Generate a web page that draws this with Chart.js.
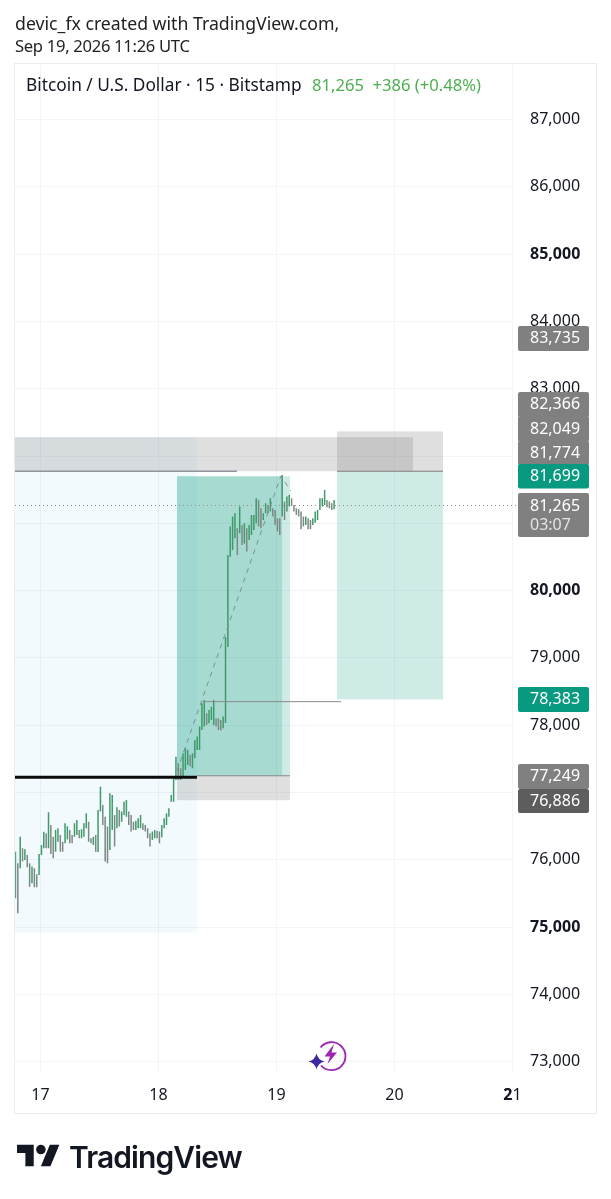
<!DOCTYPE html>
<html><head><meta charset="utf-8">
<style>
html,body{margin:0;padding:0;background:#fff;width:611px;height:1199px;overflow:hidden;font-family:"Noto Sans",sans-serif}
#wrap{position:relative;width:611px;height:1199px}
canvas{position:absolute;left:0;top:0}
.t{position:absolute;white-space:pre;line-height:22px;color:#222}
</style></head><body><div id="wrap">
<canvas id="c" width="611" height="1199"></canvas>
<div class="t" style="left:15px;top:12px;font-size:17.7px">devic_fx created with TradingView.com,</div>
<div class="t" style="left:15px;top:35px;font-size:16.6px;letter-spacing:-.3px">Sep 19, 2026 11:26 UTC</div>
<div class="t" style="left:26px;top:74px;color:#131722;font-size:17.3px">Bitcoin / U.S. Dollar · 15 · Bitstamp</div>
<div class="t" style="left:312px;top:74px;color:#4caf50;font-size:16.6px">81,265  +386 (+0.48%)</div>
<svg style="position:absolute;left:17px;top:1140px" width="43" height="33.4" viewBox="0 0 36 28"><path d="M14 22H7V11H0V4h14v18zM28 22h-8l7.5-18h8L28 22z" fill="#131722"/><circle cx="20" cy="8" r="4" fill="#131722"/></svg>
<div style="position:absolute;left:69px;top:1138px;font:600 30px/38px Inter,sans-serif;color:#131722;letter-spacing:-.9px">TradingView</div>
<svg style="position:absolute;left:305px;top:1036px" width="45" height="42" viewBox="0 0 45 42">
<path d="M15.5 11.5A14 14 0 1 1 16 29.5" fill="none" stroke="#9c27b0" stroke-width="1.8"/>
<path d="M29 8L19.5 20.5H25L22.5 28L32 16.5H26.5Z" fill="#9c27b0"/>
<path d="M11.5 17.5Q13 24 19.5 25.5Q13 27 11.5 33.5Q10 27 3.5 25.5Q10 24 11.5 17.5Z" fill="#3d2a9e"/>
</svg>
</div>
<script src="https://cdn.jsdelivr.net/npm/chart.js@4/dist/chart.umd.min.js"></script>
<script>
// Price sticks, about 50 per day from the left edge
const firstStickDay = 16.788;
const sticksPerDay = 50;
const stickHighs = [76121,75948,76344,76171,76156,76072,75948,75900,75873,75784,76086,76220,76418,76394,76706,76517,76344,76443,76468,76369,76270,76542,76500,76443,76369,76542,76592,76443,76453,76542,76691,76567,76319,76344,76369,76740,
 77087,76815,76641,76493,76988,76963,76666,76780,76740,76716,76864,76889,76716,76666,76567,76582,76617,76666,76542,76518,76468,76394,76419,76443,76433,76419,76518,76617,76691,76765,76963,77211,77533,
 77434,77360,77583,77657,77632,77558,77583,77781,77831,77979,78326,78375,78177,78227,78276,78375,78103,78103,78078,78128,79311,80530,
 80951,81100,81149,80926,81248,80976,81000,80926,80976,81124,81124,81372,81347,81223,81149,81298,81273,81372,81223,81199,81075,81075,81719,
 81323,81397,81422,81372,81273,81223,81209,81174,81100,81100,81075,81050,81075,81174,81199,81372,81372,81496,81347,81323,81298,81347];
const stickLows = [75428,75205,75873,75973,75997,75888,75601,75650,75591,75591,75774,76072,76171,76171,76171,76086,76022,76121,76270,76121,76121,76245,76300,76245,76245,76344,76369,76319,76319,76344,76468,76270,76245,76220,76121,76116,
 76716,76518,75973,75948,76146,76443,76196,76468,76493,76567,76666,76641,76518,76419,76443,76443,76468,76468,76443,76419,76319,76196,76295,76319,76319,76245,76335,76468,76518,76641,76864,76864,77186,
 77187,77187,77236,77335,77410,77385,77360,77509,77632,77632,77930,77979,78004,78029,78078,78004,77979,77930,77920,77954,78033,79163,
 80505,80604,80778,80530,80852,80679,80700,80580,80753,80827,80901,81001,80951,80926,81050,81149,81149,81174,81100,80976,80877,80827,81100,
 81050,81174,81248,81258,81174,81124,81100,80911,80951,80976,80911,80911,80976,81010,81050,81199,81248,81273,81238,81223,81199,81209];

const dayTicks = [17,18,19,20,21];
const priceTicks = [73000,74000,75000,76000,77000,78000,79000,80000,81000,82000,83000,84000,85000,86000,87000];
const boldPrices = [75000,80000,85000];

// Drawing tool values: start day, end day, low price, high price
const blueZone   = [16.784,18.326,74917,82280];
const greyZones  = [[16.784,20.157,81774,82280],[19.513,20.411,81774,82366],[18.157,19.114,76886,77249]];
const tealZones  = [[18.157,19.114,77249,81699],[18.157,19.047,77249,81699],[19.513,20.411,78383,81774]];
const trendDays   = [18.156,19.037,19.122];
const trendPrices = [77319,81702,81479];

// Price tags
const tagTexts = ["83,735","82,366","82,049","81,774","81,699","81,265","78,383","77,249","76,886"];
const tagKinds = ["grey","grey","grey","grey","teal","grey","teal","grey","dark"];
const countdown = "03:07";

// Layout of the tag column (top, bottom in page pixels)
const tagBoxes = [[326,351],[392,417],[416,442],[441,465],[464,488.5],[493,537],[687,712],[764,789],[789,813]];
const tagFill = {grey:"#808080",teal:"#089981",dark:"#5d5d5d"};

const FONT = '"Noto Sans"';
const sticks = stickHighs.map((h,i)=>({x:firstStickDay+i/sticksPerDay,y:[stickLows[i],h]}));
const stickColors = stickHighs.map((h,i)=>{
  if(i===0) return "#5aa57a";
  const m=(h+stickLows[i])/2, p=(stickHighs[i-1]+stickLows[i-1])/2;
  return m>=p ? "#3f9a69" : "#7d8783";
});
const seg=(a,b,p)=>[{x:a,y:p},{x:b,y:p}];
const lineDs=(data,color,width,dash,order,clip)=>({type:"line",data,borderColor:color,borderWidth:width,borderDash:dash||[],pointRadius:0,order,clip:clip===undefined?true:clip,tension:0,fill:false});

const zonesPlugin={id:"zones",
 beforeDraw(ch){const g=ch.ctx;g.save();g.strokeStyle="#ececec";g.lineWidth=1;g.strokeRect(14.5,63.5,582,1050);g.restore();},
 beforeDatasetsDraw(ch){
  const g=ch.ctx,X=ch.scales.x,Y=ch.scales.y;
  const box=(z,c)=>{const x0=X.getPixelForValue(z[0]),x1=X.getPixelForValue(z[1]),y0=Y.getPixelForValue(z[3]),y1=Y.getPixelForValue(z[2]);g.fillStyle=c;g.fillRect(x0,y0,x1-x0,y1-y0);};
  g.save();
  box(blueZone,"rgba(33,160,243,0.055)");
  greyZones.forEach(z=>box(z,"rgba(128,128,128,0.25)"));
  tealZones.forEach(z=>box(z,"rgba(8,153,129,0.2)"));
  g.restore();
 },
 afterDraw(ch){
  const g=ch.ctx,X=ch.scales.x;
  g.save();
  // bold first digit of the 21 tick
  g.font='700 16px '+FONT;g.fillStyle="#131722";g.textAlign="left";g.textBaseline="alphabetic";
  g.fillText("2",X.getPixelForValue(21)-9.2,1100);
  // tags
  g.textAlign="left";g.textBaseline="middle";
  tagTexts.forEach((t,i)=>{
    const b=tagBoxes[i];
    g.fillStyle=tagFill[tagKinds[i]];
    g.beginPath();g.roundRect(518,b[0],71,b[1]-b[0],2);g.fill();
  });
  tagTexts.forEach((t,i)=>{
    const b=tagBoxes[i];
    g.fillStyle="#fff";g.font='16px '+FONT;
    if(t==="81,265"){g.fillText(t,530,b[0]+13);g.fillStyle="#e3e3e3";g.fillText(countdown,530,b[0]+32);}
    else g.fillText(t,530,(b[0]+b[1])/2);
  });
  g.restore();
 }
};

new Chart(document.getElementById("c"),{
 type:"bar",
 plugins:[zonesPlugin],
 data:{datasets:[
  {type:"bar",data:sticks,backgroundColor:stickColors,barThickness:1.5,inflateAmount:0,order:5,grouped:false},
  lineDs(trendDays.map((d,i)=>({x:d,y:trendPrices[i]})),"#7d8f8c",1,[5,5],4),
  lineDs(seg(16.784,18.326,77225),"#0b0b0b",3,[],1),
  lineDs(seg(18.326,19.114,77249),"#8a8a8a",1,[],3),
  lineDs(seg(16.784,18.665,81774),"#8f949c",1.5,[],3),
  lineDs(seg(19.513,20.411,81774),"#7d7d7d",1,[],3),
  lineDs(seg(18.377,19.547,78350),"#8a8a8a",1,[],3),
  lineDs(seg(16.784,21.05,81265),"#8c8c8c",1,[1,3],2,false)
 ]},
 options:{
  responsive:false,animation:false,devicePixelRatio:1,
  layout:{padding:{left:15,top:63,right:0,bottom:0}},
  plugins:{legend:{display:false},tooltip:{enabled:false},title:{display:false}},
  scales:{
   x:{type:"linear",min:16.784,max:21,offset:false,
      afterBuildTicks:s=>{s.ticks=dayTicks.map(v=>({value:v}));},
      afterFit:s=>{s.height=126;},
      grid:{color:"#f3f4f7",lineWidth:1,drawTicks:false,offset:false},border:{display:false},
      ticks:{padding:13,maxRotation:0,autoSkip:false,color:"#131722",font:{family:FONT,size:16},callback:v=>String(v)}},
   y:{type:"linear",position:"right",min:72832,max:87840,
      afterBuildTicks:s=>{s.ticks=priceTicks.map(v=>({value:v}));},
      afterFit:s=>{s.width=98.5;},
      grid:{color:"#f3f4f7",lineWidth:1,drawTicks:false},border:{display:false},
      ticks:{padding:17.5,crossAlign:"near",autoSkip:false,color:"#131722",
        font:c=>({family:FONT,size:16,weight:boldPrices.includes(c.tick&&c.tick.value)?"700":"400"}),
        callback:v=>v.toLocaleString("en-US")}}
  }
 }
});
</script></body></html>
